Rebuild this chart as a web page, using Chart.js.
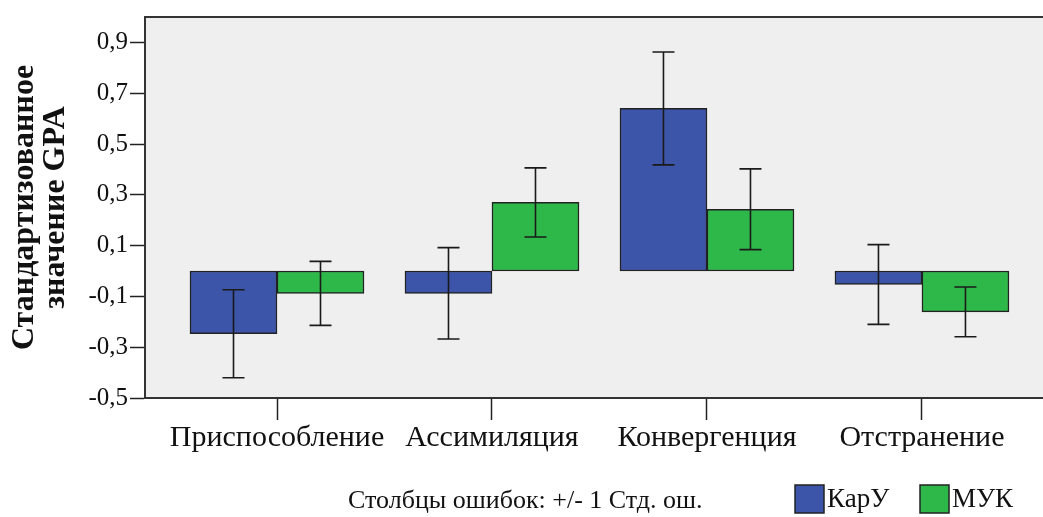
<!DOCTYPE html>
<html>
<head>
<meta charset="utf-8">
<script src="https://cdn.jsdelivr.net/npm/chart.js@4"></script>
<style>
  html, body { margin: 0; padding: 0; background: #ffffff; overflow: hidden; }
  #wrap { width: 1043px; height: 517px; }
</style>
</head>
<body>
<div id="wrap"><canvas id="c" width="1043" height="517"></canvas></div>
<script>
const categories = ['Приспособление', 'Ассимиляция', 'Конвергенция', 'Отстранение'];
const seriesNames = ['КарУ', 'МУК'];
const karuMeans = [-0.247, -0.088, 0.640, -0.053];
const karuErr = [0.173, 0.180, 0.222, 0.157];
const mukMeans = [-0.088, 0.270, 0.243, -0.161];
const mukErr = [0.126, 0.136, 0.159, 0.098];
const yTicks = [-0.5, -0.3, -0.1, 0.1, 0.3, 0.5, 0.7, 0.9];
const yTitle = ['Стандартизованное', 'значение GPA'];
const footnote = 'Столбцы ошибок: +/- 1 Стд. ош.';

const SERIF = '"Liberation Serif", "Times New Roman", serif';
const BLUE = '#3c55a9';
const GREEN = '#2fb84a';
const EDGE = '#222222';

const errs = [karuErr, mukErr];

const decor = {
  id: 'decor',
  beforeDraw(chart) {
    const { ctx, chartArea: a } = chart;
    ctx.save();
    ctx.fillStyle = '#efefef';
    ctx.fillRect(a.left, a.top, a.right - a.left, a.bottom - a.top);
    ctx.strokeStyle = '#333333';
    ctx.lineWidth = 2;
    ctx.beginPath();
    ctx.moveTo(a.left, a.top);
    ctx.lineTo(a.right, a.top);
    ctx.stroke();
    ctx.restore();
  },
  afterDatasetsDraw(chart) {
    const { ctx } = chart;
    const ys = chart.scales.y;
    ctx.save();
    ctx.strokeStyle = '#1a1a1a';
    ctx.lineWidth = 1.6;
    chart.data.datasets.forEach((ds, di) => {
      const meta = chart.getDatasetMeta(di);
      meta.data.forEach((el, i) => {
        const v = ds.data[i].y;
        const e = errs[di][i];
        const x = el.x;
        const y1 = ys.getPixelForValue(v + e);
        const y2 = ys.getPixelForValue(v - e);
        ctx.beginPath();
        ctx.moveTo(x, y1); ctx.lineTo(x, y2);
        ctx.moveTo(x - 11, y1); ctx.lineTo(x + 11, y1);
        ctx.moveTo(x - 11, y2); ctx.lineTo(x + 11, y2);
        ctx.stroke();
      });
    });
    ctx.restore();
  },
  afterDraw(chart) {
    const { ctx } = chart;
    ctx.save();
    ctx.fillStyle = '#111111';
    ctx.textBaseline = 'middle';
    ctx.font = '26px ' + SERIF;
    ctx.textAlign = 'left';
    ctx.fillText(footnote, 348, 501);
    ctx.font = '27px ' + SERIF;
    const boxX = [795, 920];
    chart.data.datasets.forEach((ds, i) => {
      const x = boxX[i];
      ctx.fillStyle = ds.backgroundColor;
      ctx.fillRect(x, 485, 29, 28);
      ctx.strokeStyle = EDGE;
      ctx.lineWidth = 1.5;
      ctx.strokeRect(x, 485, 29, 28);
      ctx.fillStyle = '#111111';
      ctx.fillText(ds.label, x + 32, 500);
    });
    ctx.restore();
  }
};

new Chart(document.getElementById('c'), {
  type: 'bar',
  data: {
    datasets: [
      {
        label: seriesNames[0],
        data: categories.map((c, i) => ({ x: i, y: karuMeans[i] })),
        backgroundColor: BLUE,
        borderColor: EDGE,
        borderWidth: 1.5,
        borderSkipped: false,
        barThickness: 87
      },
      {
        label: seriesNames[1],
        data: categories.map((c, i) => ({ x: i, y: mukMeans[i] })),
        backgroundColor: GREEN,
        borderColor: EDGE,
        borderWidth: 1.5,
        borderSkipped: false,
        barThickness: 87
      }
    ]
  },
  plugins: [decor],
  options: {
    responsive: false,
    animation: false,
    layout: { padding: { top: 13, left: 0, right: 0, bottom: 0 } },
    plugins: {
      legend: { display: false },
      tooltip: { enabled: false }
    },
    scales: {
      x: {
        type: 'linear',
        offset: false,
        min: -0.614,
        max: 3.563,
        afterBuildTicks: (axis) => { axis.ticks = categories.map((c, i) => ({ value: i })); },
        afterFit: (axis) => { axis.height = 119; },
        ticks: {
          autoSkip: false,
          maxRotation: 0,
          padding: 0,
          color: '#111111',
          font: { family: SERIF, size: 30 },
          callback: (v) => categories[v]
        },
        grid: {
          offset: false,
          drawOnChartArea: false,
          drawTicks: true,
          tickLength: 22,
          tickColor: '#222222',
          tickWidth: 1.5
        },
        border: { display: true, color: '#333333', width: 2 }
      },
      y: {
        min: -0.5,
        max: 1.0,
        afterBuildTicks: (axis) => { axis.ticks = yTicks.map(v => ({ value: v })); },
        afterFit: (axis) => { axis.width = 145; },
        ticks: {
          padding: 2,
          color: '#111111',
          font: { family: SERIF, size: 25 },
          callback: (v) => v.toFixed(1).replace('.', ',')
        },
        grid: {
          drawOnChartArea: false,
          drawTicks: true,
          tickLength: 15,
          tickColor: '#222222',
          tickWidth: 1.5
        },
        border: { display: true, color: '#333333', width: 2 },
        title: {
          display: true,
          text: yTitle,
          color: '#111111',
          font: { family: SERIF, size: 32, weight: 'bold', lineHeight: 0.95 },
          padding: { top: 10, bottom: 0 }
        }
      }
    }
  }
});
</script>
</body>
</html>
